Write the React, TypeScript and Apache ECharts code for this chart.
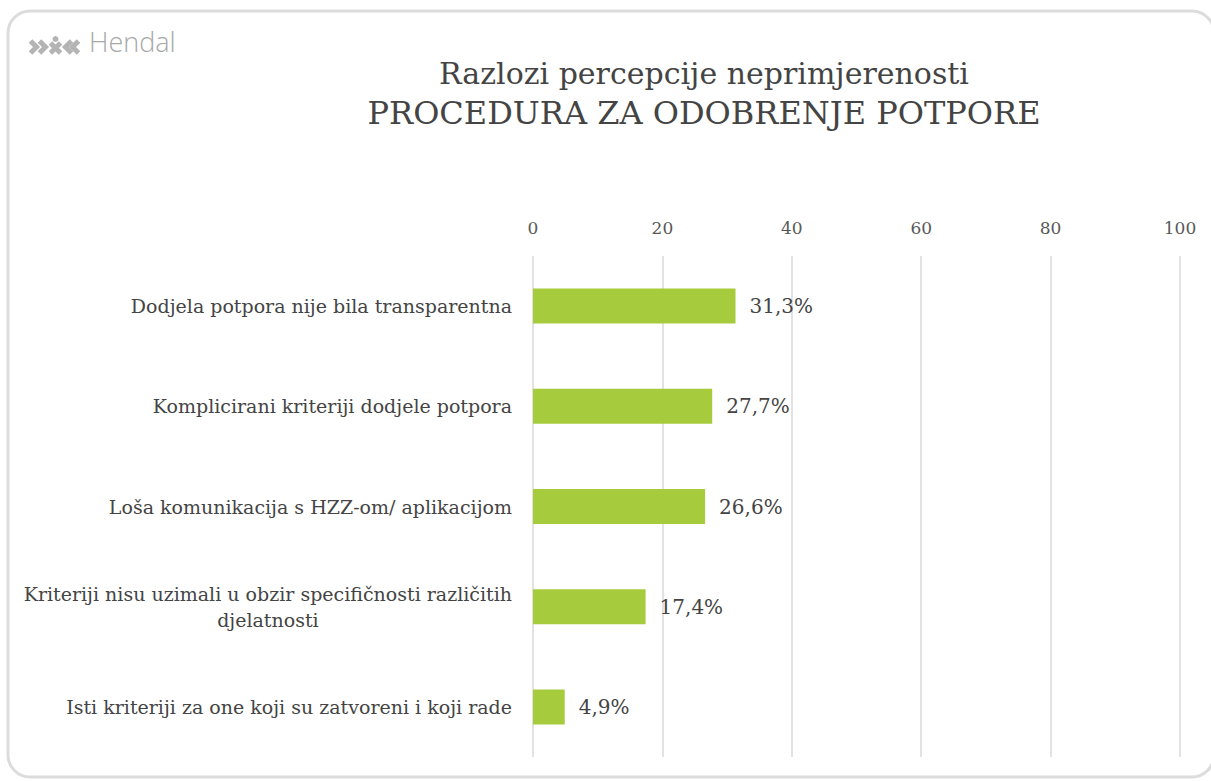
import React, { useEffect, useRef } from "react";
import * as echarts from "echarts";

const categories = [
  "Dodjela potpora nije bila transparentna",
  "Komplicirani kriteriji dodjele potpora",
  "Loša komunikacija s HZZ-om/ aplikacijom",
  "Kriteriji nisu uzimali u obzir specifičnosti različitih\ndjelatnosti",
  "Isti kriteriji za one koji su zatvoreni i koji rade",
];
const values = [31.3, 27.7, 26.6, 17.4, 4.9];
const axisTicks = [0, 20, 40, 60, 80, 100];
const titleLines = ["Razlozi percepcije neprimjerenosti", "PROCEDURA ZA ODOBRENJE POTPORE"];

const SERIF = "'DejaVu Serif', 'Liberation Serif', serif";

export default function App() {
  const ref = useRef<HTMLDivElement>(null);
  useEffect(() => {
    if (!ref.current) return;
    const chart = echarts.init(ref.current, null, { renderer: "svg" });
    const gray = "#b4b4b4";
    chart.setOption({
      animation: false,
      backgroundColor: "#ffffff",
      title: {
        text: "{a|" + titleLines[0] + "}\n{b|" + titleLines[1] + "}",
        left: 699,
        top: 48,
        textAlign: "center",
        textStyle: {
          fontFamily: SERIF,
          fontSize: 30,
          fontWeight: "normal",
          color: "#444444",
          lineHeight: 40,
          rich: {
            a: { fontFamily: SERIF, fontSize: 30, color: "#444444", lineHeight: 40, align: "center" },
            b: { fontFamily: SERIF, fontSize: 32, color: "#444444", lineHeight: 40, align: "center" },
          },
        },
      },
      grid: { left: 533, right: 31, top: 256, bottom: 24, containLabel: false },
      xAxis: {
        type: "value",
        position: "top",
        min: axisTicks[0],
        max: axisTicks[axisTicks.length - 1],
        interval: 20,
        axisLine: { show: false },
        axisTick: { show: false },
        axisLabel: {
          margin: 20,
          fontFamily: SERIF,
          fontSize: 17,
          color: "#595959",
        },
        splitLine: { show: true, lineStyle: { color: "#d9d9d9", width: 1.5 } },
      },
      yAxis: {
        type: "category",
        data: categories,
        inverse: true,
        axisLine: { show: false },
        axisTick: { show: false },
        axisLabel: {
          margin: 21,
          fontFamily: SERIF,
          fontSize: 19,
          color: "#444444",
          lineHeight: 26,
          formatter: (v: string) => {
            const parts = v.split("\n");
            if (parts.length === 1) return v;
            return "{a|" + parts[0] + "}\n{b|" + parts[1] + "}";
          },
          rich: {
            a: { fontFamily: SERIF, fontSize: 19, color: "#444444", lineHeight: 26 },
            b: { fontFamily: SERIF, fontSize: 19, color: "#444444", lineHeight: 26, align: "center" },
          },
        },
      },
      series: [
        {
          type: "bar",
          data: values,
          barWidth: 35,
          itemStyle: { color: "#a6cb3c" },
          label: {
            show: true,
            position: "right",
            distance: 14,
            fontFamily: SERIF,
            fontSize: 20,
            color: "#444444",
            formatter: (p: any) => String(p.value).replace(".", ",") + "%",
          },
        },
      ],
      graphic: [
        {
          type: "rect",
          shape: { x: 8, y: 11, width: 1206, height: 766, r: 22 },
          style: { fill: "none", stroke: "#dcdcdc", lineWidth: 3 },
          silent: true,
        },
        {
          type: "group",
          left: 28,
          top: 36,
          children: [
            { type: "polyline", shape: { points: [[1, 2], [7, 8], [1, 14]] }, style: { stroke: gray, lineWidth: 5, fill: "none" } },
            { type: "polyline", shape: { points: [[10, 2], [16, 8], [10, 14]] }, style: { stroke: gray, lineWidth: 5, fill: "none" } },
            { type: "line", shape: { x1: 21, y1: 4, x2: 31, y2: 14 }, style: { stroke: gray, lineWidth: 5 } },
            { type: "line", shape: { x1: 31, y1: 4, x2: 21, y2: 14 }, style: { stroke: gray, lineWidth: 5 } },
            { type: "circle", shape: { cx: 26, cy: 0, r: 3 }, style: { fill: gray } },
            { type: "polyline", shape: { points: [[42, 2], [36, 8], [42, 14]] }, style: { stroke: gray, lineWidth: 5, fill: "none" } },
            { type: "polyline", shape: { points: [[49, 2], [43, 8], [49, 14]] }, style: { stroke: gray, lineWidth: 5, fill: "none" } },
          ],
        },
        {
          type: "text",
          left: 89,
          top: 28,
          style: {
            text: "Hendal",
            fontFamily: "'Open Sans', 'Noto Sans', sans-serif",
            fontSize: 27,
            fontWeight: 300,
            fill: "#a8a8a8",
          },
        },
      ],
    });
    return () => chart.dispose();
  }, []);
  return (
    <div
      ref={ref}
      style={{ position: "fixed", left: 0, top: 0, width: 1211, height: 781 }}
    />
  );
}
